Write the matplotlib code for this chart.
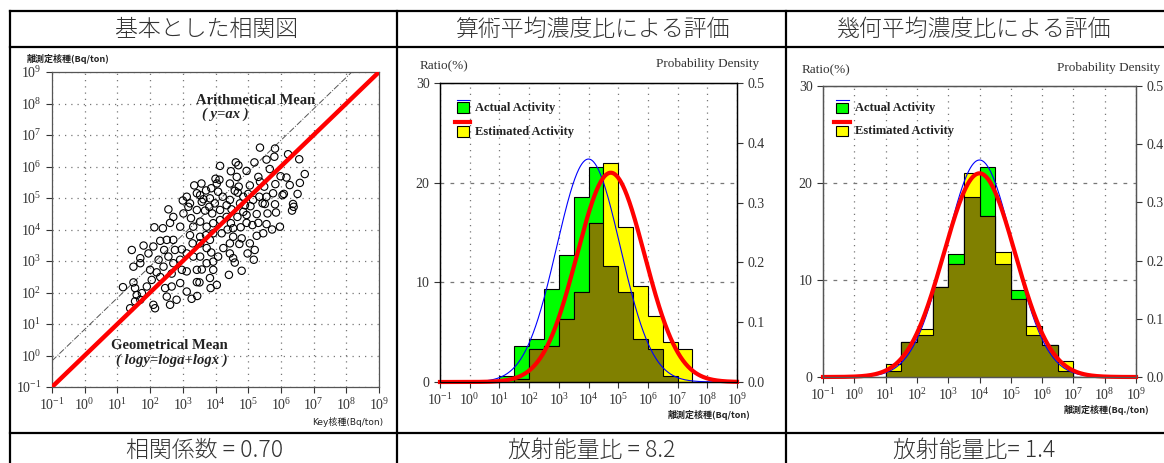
import numpy as np
import matplotlib
matplotlib.use("Agg")
import matplotlib.pyplot as plt
from matplotlib.lines import Line2D
from matplotlib.patches import Rectangle

plt.rcParams['font.family'] = ['Liberation Serif', 'Noto Sans CJK JP', 'DejaVu Sans']
plt.rcParams['mathtext.fontset'] = 'custom'
plt.rcParams['mathtext.rm'] = 'Liberation Serif'
plt.rcParams['mathtext.it'] = 'Liberation Serif:italic'
plt.rcParams['mathtext.bf'] = 'Liberation Serif:bold'

W, H = 1164, 463

headers = ["基本とした相関図", "算術平均濃度比による評価", "幾何平均濃度比による評価"]
captions = ["相関係数 = 0.70", "放射能量比 = 8.2", "放射能量比= 1.4"]

# scatter: log10 of Key nuclide vs log10 of difficult-to-measure nuclide (Bq/ton)
key_log = [5.36, 5.82, 5.80, 6.22, 6.56, 6.73, 6.58, 6.51, 6.37, 6.39, 6.34, 6.09, 6.05, 6.27, 6.17,
           5.99, 5.83, 5.76, 5.56, 5.66, 5.19, 4.95, 4.62, 4.70, 4.47, 4.14, 4.65, 4.71, 4.68, 4.85,
           5.00, 5.05, 5.31, 5.36, 5.49, 5.56, 5.44, 5.34, 5.15, 5.07, 4.90, 4.95, 5.26, 5.51, 5.82,
           5.85, 5.59, 5.56, 5.73, 5.97, 5.46, 5.26, 5.13, 4.95, 4.77, 4.54, 4.47, 4.67, 4.49, 4.34,
           4.22, 4.08, 4.04, 4.12, 4.00, 3.87, 3.71, 3.57, 3.35, 3.63, 3.83, 3.98, 3.81, 4.14, 4.14,
           3.90, 3.68, 3.58, 3.43, 3.25, 3.02, 3.00, 2.71, 2.92, 2.56, 2.61, 2.39, 2.13, 3.22, 3.32,
           3.53, 3.73, 3.93, 3.93, 3.83, 3.71, 3.53, 3.22, 3.30, 3.53, 3.73, 4.19, 4.37, 4.54, 4.44,
           4.24, 4.08, 3.93, 3.87, 3.53, 3.32, 3.12, 2.97, 2.71, 2.51, 2.31, 2.43, 2.10, 1.80, 1.95,
           1.70, 1.44, 1.49, 1.70, 2.00, 2.20, 2.41, 2.26, 2.56, 2.76, 2.92, 2.71, 2.66, 2.97, 3.12,
           3.43, 3.58, 3.73, 3.93, 3.83, 3.43, 3.12, 2.92, 2.66, 2.46, 2.31, 2.05, 1.90, 1.75, 1.59,
           1.49, 1.54, 1.17, 1.39, 1.54, 1.70, 2.10, 2.15, 2.51, 2.61, 2.81, 3.27, 3.44, 3.51, 3.85,
           4.04, 4.41, 4.44, 4.54, 4.59, 4.80, 4.73, 4.80, 5.05, 5.20, 5.17, 4.98, 5.31, 4.34, 4.85,
           4.44, 4.75, 4.59, 4.44, 3.53, 3.12, 3.17, 3.43]
sep_log = [6.60, 6.57, 6.31, 6.39, 6.23, 5.76, 5.48, 5.13, 4.81, 4.72, 4.60, 5.13, 5.09, 5.41, 5.65,
           5.69, 5.44, 5.15, 6.22, 5.92, 6.13, 5.86, 6.13, 6.04, 5.85, 6.02, 5.67, 5.36, 5.17, 5.04,
           5.13, 5.40, 5.67, 5.52, 5.36, 5.04, 4.83, 5.04, 4.94, 4.74, 4.77, 4.46, 4.49, 4.81, 4.80,
           4.54, 4.51, 4.17, 4.00, 4.09, 3.88, 3.80, 4.14, 4.21, 4.07, 4.04, 4.20, 4.40, 4.64, 4.77,
           5.04, 5.20, 5.46, 5.58, 5.61, 5.31, 5.24, 5.46, 5.40, 4.96, 4.99, 4.83, 4.72, 4.62, 4.30,
           4.51, 4.60, 4.88, 4.62, 4.36, 4.51, 4.92, 4.40, 4.09, 4.64, 4.21, 4.04, 4.07, 4.83, 4.09,
           4.25, 4.09, 4.20, 3.88, 3.67, 3.82, 3.77, 3.82, 3.56, 3.56, 3.41, 3.88, 4.00, 3.77, 3.56,
           3.41, 3.14, 2.98, 3.27, 3.14, 3.14, 3.24, 3.37, 3.67, 3.67, 3.64, 3.35, 3.46, 3.49, 3.24,
           3.09, 3.35, 2.82, 2.93, 2.72, 2.64, 2.82, 3.04, 3.14, 3.35, 3.04, 2.93, 2.60, 2.72, 2.67,
           2.72, 2.73, 2.93, 2.72, 2.46, 2.33, 2.03, 2.30, 2.19, 2.14, 2.49, 2.40, 2.19, 1.98, 1.92,
           2.32, 2.14, 2.17, 1.50, 1.72, 1.77, 1.61, 1.50, 1.87, 1.61, 1.77, 1.80, 1.89, 2.32, 2.14,
           2.24, 2.56, 3.24, 3.09, 2.95, 2.69, 3.54, 3.72, 3.56, 3.35, 3.04, 3.24, 4.21, 4.40, 4.56,
           4.94, 4.83, 5.23, 5.46, 5.09, 5.04, 4.72, 5.15]

arith_ratio_log = 0.83   # y = a x  (dash-dot)
geo_ratio_log = 0.0      # log y = log a + log x (red)

# histograms, half-decade bins from 10^1 to 10^7.5, in %
bin_edges_log = [1.0, 1.5, 2.0, 2.5, 3.0, 3.5, 4.0, 4.5, 5.0, 5.5, 6.0, 6.5, 7.0, 7.5]
actual = [0.6, 3.6, 4.3, 9.3, 12.7, 18.6, 21.6, 11.6, 9.0, 4.3, 3.3, 0.6, 0.0]
est_arith = [0.0, 0.3, 3.3, 3.6, 6.3, 9.0, 16.0, 22.0, 15.6, 9.6, 6.6, 4.0, 3.3]
est_geo = [1.3, 3.6, 5.0, 9.3, 11.6, 21.0, 16.6, 12.9, 8.0, 5.3, 3.3, 1.6, 0.0]

# fitted log-normal curves (mean, sigma of log10)
actual_fit = (4.0, 1.07)
arith_fit = (4.75, 1.14)
geo_fit = (4.0, 1.14)


def rect(x0, y0, x1, y1):
    return [x0 / W, 1 - y1 / H, (x1 - x0) / W, (y1 - y0) / H]


def fx(x):
    return x / W


def fy(y):
    return 1 - y / H


fig = plt.figure(figsize=(W / 100, H / 100), dpi=100)

# table frame
for y in [11, 47, 433]:
    fig.add_artist(Line2D([fx(10), 1.0], [fy(y), fy(y)], color='black', lw=1.6))
for x in [10, 397, 786]:
    fig.add_artist(Line2D([fx(x), fx(x)], [fy(11), 0.0], color='black', lw=1.6))

cjk = ['Noto Sans CJK JP', 'DejaVu Sans']
for cx, t in zip([206, 592, 974], headers):
    fig.text(fx(cx), fy(29), t, ha='center', va='center', fontsize=16.5, family=cjk,
             fontweight='light', color='#333333')
for cx, t in zip([205, 592, 974], captions):
    fig.text(fx(cx), fy(450), t, ha='center', va='center', fontsize=16.5, family=cjk,
             fontweight='light', color='#333333')

decades = 10.0 ** np.arange(-1, 10)
xlabels = [r'$\mathregular{10^{%d}}$' % e for e in range(-1, 10)]
tick_col = '#333333'

# ---- panel 1: correlation ----
ax1 = fig.add_axes(rect(52, 72, 379, 387))
ax1.set_xscale('log')
ax1.set_yscale('log')
ax1.set_xlim(1e-1, 1e9)
ax1.set_ylim(1e-1, 1e9)
ax1.set_xticks(decades)
ax1.set_xticklabels(xlabels)
ax1.set_yticks(decades)
ax1.set_yticklabels(xlabels)
ax1.minorticks_off()
ax1.tick_params(labelsize=10, colors=tick_col, length=4, width=0.8)
ax1.grid(True, ls=(0, (1, 4)), color='#777777', lw=0.9)
for s in ax1.spines.values():
    s.set_color('#555555')
    s.set_linewidth(0.9)

ax1.scatter(10.0 ** np.array(key_log), 10.0 ** np.array(sep_log), s=28,
            facecolors='none', edgecolors='black', linewidths=0.8, zorder=3)
ax1.plot([1e-1, 1e9], [1e-1 * 10 ** geo_ratio_log, 1e9 * 10 ** geo_ratio_log],
         color='red', lw=3.2, zorder=4, solid_capstyle='butt')
xx = np.array([1e-1, 1e9])
ax1.plot(xx, xx * 10 ** arith_ratio_log, ls='-.', color='#555555', lw=0.7, zorder=2)

ax1.text(0.624, 0.911, 'Arithmetical Mean', transform=ax1.transAxes, ha='center', va='center',
         fontsize=10.5, fontweight='bold', color='#222222', zorder=5)
ax1.text(0.53, 0.867, '( y=ax )', transform=ax1.transAxes, ha='center', va='center',
         fontsize=10.5, fontweight='bold', style='italic', color='#222222', zorder=5)
ax1.text(0.358, 0.133, 'Geometrical Mean', transform=ax1.transAxes, ha='center', va='center',
         fontsize=10.5, fontweight='bold', color='#222222', zorder=5)
ax1.text(0.367, 0.086, '( logy=loga+logx )', transform=ax1.transAxes, ha='center', va='center',
         fontsize=10.5, fontweight='bold', style='italic', color='#222222', zorder=5)

fig.text(fx(27), fy(59), '離測定核種(Bq/ton)', fontsize=6.5, fontweight='bold', family=cjk,
         ha='left', va='center', color='#222222')
fig.text(fx(383), fy(422), 'Key核種(Bq/ton)', fontsize=6.5, family=['DejaVu Sans', 'Noto Sans CJK JP'],
         ha='right', va='center', color='#222222')


# ---- panels 2 and 3: histograms ----
def hist_panel(box, est, est_fit, spine_col, legend_pos, xlabel, ratio_xy, dens_xy):
    ax = fig.add_axes(rect(*box))
    ax.set_xscale('log')
    ax.set_xlim(1e-1, 1e9)
    ax.set_ylim(0, 30)
    ax.set_yticks([0, 10, 20, 30])
    ax.tick_params(labelsize=10, colors=tick_col, length=4, width=0.8)
    ax.set_axisbelow(True)
    ax.yaxis.grid(True, ls=(0, (3, 5)), color='#777777', lw=0.9)

    edges = 10.0 ** np.array(bin_edges_log)
    a = np.array(actual)
    e = np.array(est)
    ax.stairs(a, edges, fill=True, facecolor='#00ff00', edgecolor='black', lw=0.8)
    ax.stairs(e, edges, fill=True, facecolor='#ffff00', edgecolor='black', lw=0.8)
    ax.stairs(np.minimum(a, e), edges, fill=True, facecolor='#808000', edgecolor='black', lw=0.8)

    axr = ax.twinx()
    axr.set_ylim(0, 0.5)
    axr.set_yticks([0.0, 0.1, 0.2, 0.3, 0.4, 0.5])
    axr.set_yticklabels(['0.0', '0.1', '0.2', '0.3', '0.4', '0.5'])
    axr.tick_params(labelsize=10, colors=tick_col, length=4, width=0.8)
    for s in list(ax.spines.values()) + list(axr.spines.values()):
        s.set_color(spine_col)
        s.set_linewidth(0.9)

    # shared x axis: set ticks after twinx so they stick
    ax.set_xlim(1e-1, 1e9)
    ax.set_xticks(decades)
    ax.set_xticklabels(xlabels)
    ax.minorticks_off()
    ax.tick_params(axis='x', labelsize=10, colors=tick_col, length=4, width=0.8)
    ax.xaxis.grid(True, ls=(0, (1, 4)), color='#777777', lw=0.9)

    lx = np.linspace(-1, 9, 600)
    for (mu, sd), col, lw in [(actual_fit, '#0000ff', 0.8), (est_fit, 'red', 3.0)]:
        pdf = np.exp(-0.5 * ((lx - mu) / sd) ** 2) / (sd * np.sqrt(2 * np.pi))
        axr.plot(10.0 ** lx, pdf, color=col, lw=lw, clip_on=False)

    # hand-made legend
    x0, y_blue, y_green, y_red, y_yel, x_txt = legend_pos
    t = axr.transAxes
    axr.add_line(Line2D([x0, x0 + 0.042], [y_blue, y_blue], color='#0000ff', lw=0.8, transform=t))
    axr.add_patch(Rectangle((x0, y_green), 0.04, 0.035, facecolor='#00ff00', edgecolor='black',
                            lw=0.8, transform=t))
    axr.text(x_txt, y_green + 0.016, 'Actual Activity', transform=t, fontsize=9, fontweight='bold',
             va='center', ha='left', color='#222222')
    axr.add_line(Line2D([x0 - 0.005, x0 + 0.045], [y_red, y_red], color='red', lw=3.0, transform=t))
    axr.add_patch(Rectangle((x0, y_yel), 0.04, 0.035, facecolor='#ffff00', edgecolor='black',
                            lw=0.8, transform=t))
    axr.text(x_txt, y_yel + 0.016, 'Estimated Activity', transform=t, fontsize=9, fontweight='bold',
             va='center', ha='left', color='#222222')

    fig.text(fx(ratio_xy[0]), fy(ratio_xy[1]), 'Ratio(%)', fontsize=9.5, ha='left', va='center',
             color='#333333')
    fig.text(fx(dens_xy[0]), fy(dens_xy[1]), 'Probability Density', fontsize=9.5, ha='right',
             va='center', color='#333333')
    fig.text(fx(box[2] + 13), fy(box[3] + 33), xlabel, fontsize=6.5, fontweight='bold', family=cjk,
             ha='right', va='center', color='#222222')
    return ax


hist_panel((440, 83, 737, 382), est_arith, arith_fit, 'black',
           (0.057, 0.943, 0.90, 0.87, 0.82, 0.118), '離測定核種(Bq/ton)', (420, 66), (759, 64))
hist_panel((823, 86, 1136, 377), est_geo, geo_fit, '#555555',
           (0.04, 0.952, 0.907, 0.876, 0.828, 0.102), '離測定核種(Bq./ton)', (802, 70), (1160, 68))

fig.savefig('out.png', dpi=100)
